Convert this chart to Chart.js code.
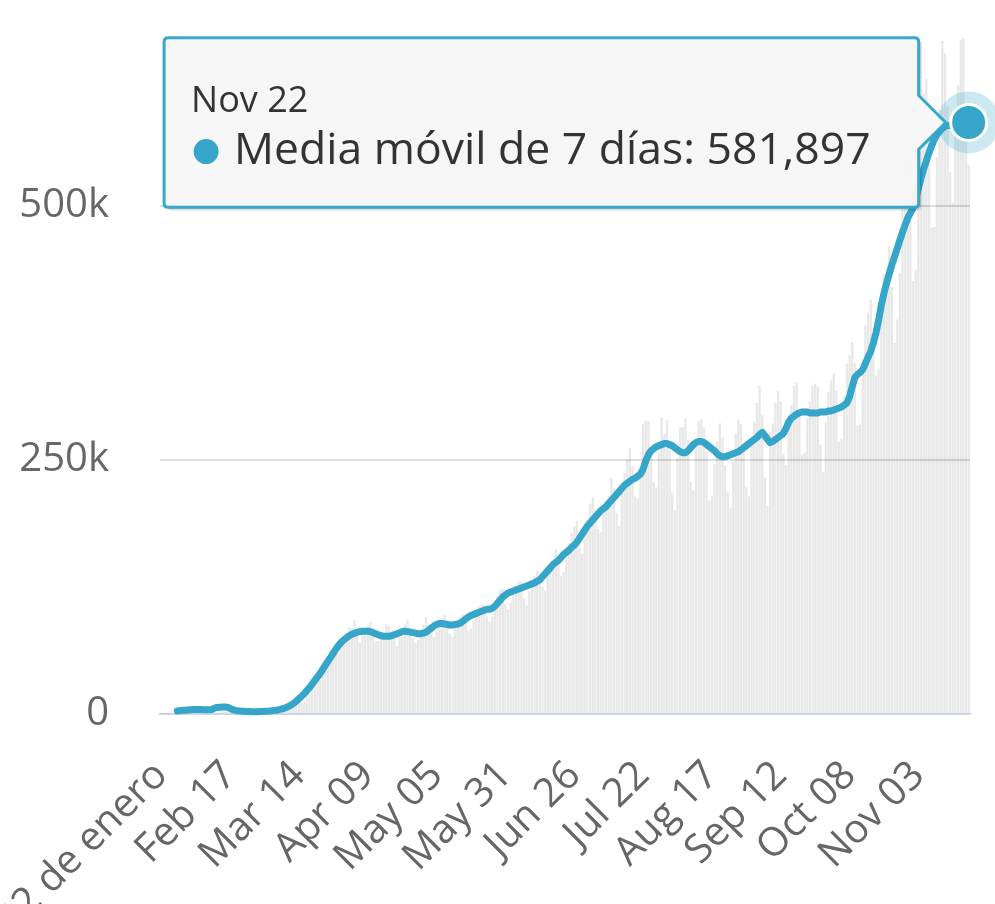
<!DOCTYPE html>
<html lang="es">
<head>
<meta charset="utf-8">
<title>Media móvil de 7 días</title>
<script src="https://cdn.jsdelivr.net/npm/chart.js@4.4.1/dist/chart.umd.min.js"></script>
<style>
  html, body { margin: 0; padding: 0; background: #fff; }
  #wrap { width: 995px; height: 904px; }
</style>
</head>
<body>
<div id="wrap"><canvas id="cases" width="995" height="904"></canvas></div>
<script>
/* ---------- data (thousands of cases, one value per day from Jan 22) ---------- */

// daily new cases (grey bars)
const DAILY_CASES = [
  0.1, 0.1, 0.3, 0.5, 0.7, 0.8, 2.7,
  0.6, 2.1, 1.7, 2.1, 4.7, 3.1, 4.0,
  3.7, 3.2, 3.6, 2.7, 3.0, 2.6, 2.0,
  0.4, 9.5, 6.5, 2.1, 2.2, 2.0, 1.9,
  0.5, 0.6, 1.0, 1.4, 0.6, 0.8, 0.9,
  0.8, 1.3, 1.8, 1.9, 1.7, 1.8, 2.2,
  2.6, 2.8, 3.0, 4.0, 3.9, 4.0, 4.5,
  5.0, 7.4, 10.0, 10.8, 11.3, 13.9, 16.6,
  19.5, 27.0, 29.0, 32.0, 33.5, 39.9, 42.0,
  50.5, 62.5, 64.5, 61.5, 59.0, 73.5, 77.0,
  80, 85, 84, 92, 79, 70, 81,
  84, 87, 90, 84, 72, 72, 78,
  75, 88, 87, 82, 74, 67, 76,
  76, 88, 93, 85, 75, 70, 73,
  83, 88, 95, 88, 80, 76, 81,
  89, 94, 98, 92, 79, 76, 84,
  87, 95, 98, 96, 82, 84, 92,
  99, 106, 108, 107, 96, 91, 96,
  105, 116, 122, 123, 108, 103, 110,
  117, 127, 131, 130, 114, 107, 121,
  127, 136, 141, 137, 125, 121, 141,
  143, 151, 162, 155, 136, 140, 165,
  168, 178, 185, 190, 163, 158, 180,
  190, 207, 213, 200, 182, 179, 203,
  210, 215, 232, 222, 198, 185, 218,
  237, 250, 262, 244, 214, 212, 235,
  285, 289, 288, 262, 228, 223, 258,
  292, 276, 289, 264, 218, 200, 252,
  282, 282, 291, 270, 229, 220, 264,
  288, 290, 282, 258, 210, 215, 246,
  268, 286, 272, 245, 218, 203, 248,
  276, 289, 285, 266, 223, 214, 268,
  287, 306, 323, 294, 233, 205, 278,
  286, 306, 318, 308, 256, 245, 281,
  304, 323, 326, 296, 255, 257, 291,
  307, 323, 325, 322, 265, 238, 287,
  317, 328, 335, 318, 268, 271, 313,
  345, 353, 366, 345, 284, 285, 348,
  383, 395, 408, 365, 333, 340, 393,
  433, 439, 460, 420, 365, 388, 434,
  497, 523, 549, 485, 426, 437, 502,
  526, 610, 625, 592, 478, 479, 548,
  595, 662, 650, 598, 533, 503, 572,
  618, 663, 666, 589, 540
];

// 7-day moving average (blue line), starts on day 7
const MOVING_AVG = [
  null, null, null, null, null, null,
  3.0, 3.3, 3.6, 3.8, 4.0, 4.2, 4.4, 4.5, 4.5, 4.4, 4.3, 4.2, 4.1,
  4.4, 5.6, 6.5, 6.7, 6.8, 6.8, 6.6, 5.5, 4.2,
  3.6, 3.2, 2.9, 2.7, 2.5, 2.4, 2.3, 2.3, 2.3, 2.4, 2.5, 2.6, 2.8,
  3.0, 3.3, 3.6, 4.0, 4.6, 5.3, 6.2, 7.4, 8.8, 10.5, 12.5, 15.0,
  17.5, 20, 23, 26, 29.5, 33, 36.5, 40, 44, 48, 52, 56, 60, 64, 67.5, 70.5, 73, 75,
  77, 78.5, 79.5, 80.5, 81, 81.5, 81.5, 81.5, 81, 80,
  79, 78, 77, 76.5, 76.5, 76.5, 77, 78, 79, 80, 81, 81.5, 81, 80.5, 80, 79.5, 79, 79, 79.5, 80.5,
  82.5, 84.5, 86.5, 88, 89, 89, 88.5, 88, 87.5, 87.5, 88, 88.5, 89.5,
  91.5, 93.5, 95.5, 97, 98, 99, 100, 101, 102, 103, 103, 104, 106, 109, 112, 115, 117,
  119, 120, 121, 122, 123, 124, 125, 126, 127, 128, 129, 130.5, 132,
  135, 138, 141, 144, 147, 149, 151, 154, 157, 159, 161, 164, 166,
  169, 173, 177, 181, 185, 188, 191, 194, 197, 200, 202, 204,
  207, 210, 213, 216, 219, 222, 225, 227, 229, 231, 232, 234, 236,
  241, 249, 255, 259, 261, 263, 264, 265, 266, 266,
  265, 264, 262, 260, 258, 257, 257, 259, 262, 265, 267, 268, 268, 267,
  265, 263, 261, 259, 256, 254, 253, 253, 254, 255, 256, 257, 258, 260,
  262, 264, 266, 268, 270, 272, 275, 277, 274, 270, 267, 268, 270, 272, 274, 276, 281, 287,
  291, 293, 295, 296, 297, 297, 297, 296, 296, 296, 296, 297, 297, 297, 298, 298, 299, 300, 301, 302, 304,
  306, 312, 322, 331, 334, 336, 339, 345, 351, 357, 365, 375,
  388, 402, 414, 424, 433, 442, 450, 458, 466, 474, 481,
  488, 493, 498, 507, 517, 527, 536, 544, 552, 559, 565, 570, 573, 576, 578, 579, 579, 580, 580, 580, 581, 581, 581, 581.897
];

// tick labels shown on the x axis, and the day each one sits on
const TICK_DATES = ['Jan 22', 'Feb 17', 'Mar 14', 'Apr 09', 'May 05', 'May 31',
                    'Jun 26', 'Jul 22', 'Aug 17', 'Sep 12', 'Oct 08', 'Nov 03'];
const TICK_TEXT  = ['22 de enero', 'Feb 17', 'Mar 14', 'Apr 09', 'May 05', 'May 31',
                    'Jun 26', 'Jul 22', 'Aug 17', 'Sep 12', 'Oct 08', 'Nov 03'];
const Y_TICKS = [0, 250, 500];
const SERIES_NAME = 'Media móvil de 7 días';

// one category per day, starting Jan 22 2020
const MONTHS = ['Jan', 'Feb', 'Mar', 'Apr', 'May', 'Jun', 'Jul', 'Aug', 'Sep', 'Oct', 'Nov', 'Dec'];
const CATEGORIES = DAILY_CASES.map((_, i) => {
  const d = new Date(Date.UTC(2020, 0, 22 + i));
  return MONTHS[d.getUTCMonth()] + ' ' + String(d.getUTCDate()).padStart(2, '0');
});

/* ---------- chart ---------- */

const BLUE = '#35a6c9';
const FONT = '"Open Sans", "Noto Sans", sans-serif';
const LAST = MOVING_AVG.length - 1;

function fmtCases(k) {
  return Math.round(k * 1000).toLocaleString('en-US');
}

// soft drop shadow under the tooltip box (Chart.js has no option for it)
const tooltipShadow = {
  id: 'tooltipShadow',
  beforeTooltipDraw(chart, args) {
    const tt = args.tooltip;
    if (!tt || !tt.opacity) return;
    const ctx = chart.ctx;
    ctx.save();
    [[3, 0.05], [2, 0.08], [1, 0.1]].forEach(([off, a]) => {
      ctx.fillStyle = 'rgba(0,0,0,' + a + ')';
      ctx.beginPath();
      ctx.roundRect(tt.x + off, tt.y + off, tt.width + 1, tt.height + 1, 5);
      ctx.fill();
    });
    ctx.restore();
  }
};

const chart = new Chart(document.getElementById('cases'), {
  type: 'bar',
  data: {
    labels: CATEGORIES,
    datasets: [
      {
        type: 'line',
        label: SERIES_NAME,
        data: MOVING_AVG,
        borderColor: BLUE,
        borderWidth: 7,
        borderCapStyle: 'round',
        borderJoinStyle: 'round',
        tension: 0,
        pointRadius: (c) => (c.dataIndex === LAST ? 18 : 0),
        pointHoverRadius: (c) => (c.dataIndex === LAST ? 18 : 0),
        pointBackgroundColor: BLUE,
        pointBorderColor: '#ffffff',
        pointBorderWidth: 3,
        pointHoverBorderWidth: 3,
        clip: false,
        order: 0
      },
      {
        // hover halo round the last point
        type: 'line',
        label: 'halo',
        data: MOVING_AVG,
        showLine: false,
        pointRadius: (c) => (c.dataIndex === LAST ? 31 : 0),
        pointHoverRadius: (c) => (c.dataIndex === LAST ? 31 : 0),
        pointBackgroundColor: 'rgba(53,166,201,0.25)',
        pointBorderWidth: 0,
        clip: false,
        order: 1
      },
      {
        type: 'bar',
        label: 'Casos diarios',
        data: DAILY_CASES,
        backgroundColor: 'rgba(0,0,0,0.09)',
        barPercentage: 1,
        categoryPercentage: 0.9,
        order: 2
      }
    ]
  },
  options: {
    responsive: false,
    animation: false,
    events: [],
    // the big halo would otherwise make Chart.js shrink the plot area
    layout: { autoPadding: false, padding: { left: 0, right: 25, top: 38, bottom: 0 } },
    scales: {
      x: {
        offset: true,
        grid: { display: false },
        border: { display: true, color: '#ccd6eb', width: 2 },
        ticks: {
          autoSkip: false,
          maxRotation: 45,
          minRotation: 45,
          padding: 30,
          color: '#666666',
          font: { family: FONT, size: 40 },
          callback: (value, index) => {
            const k = TICK_DATES.indexOf(CATEGORIES[index]);
            return k >= 0 ? TICK_TEXT[k] : null;
          }
        },
        afterFit: (scale) => {
          scale.height = 190;
          scale.paddingLeft = 0;
          scale.paddingRight = 0;
        }
      },
      y: {
        min: 0,
        max: 665,
        border: { display: false },
        grid: {
          drawTicks: false,
          lineWidth: 2,
          color: (c) => (c.tick && c.tick.value === 0 ? 'rgba(0,0,0,0)' : '#dedede')
        },
        ticks: {
          padding: 51,
          color: '#666666',
          font: { family: FONT, size: 40 },
          callback: (v) => (v === 0 ? '0' : v + 'k')
        },
        afterBuildTicks: (axis) => {
          axis.ticks = Y_TICKS.map((v) => ({ value: v }));
        },
        afterFit: (scale) => {
          scale.width = 160;
          scale.paddingTop = 0;
          scale.paddingBottom = 0;
        }
      }
    },
    plugins: {
      legend: { display: false },
      tooltip: {
        enabled: true,
        xAlign: 'right',
        yAlign: 'center',
        backgroundColor: 'rgba(247,247,247,0.97)',
        borderColor: '#37a8cc',
        borderWidth: 3,
        cornerRadius: 4,
        caretSize: 27,
        caretPadding: 23,
        padding: { top: 42, right: 48, bottom: 29, left: 27 },
        titleFont: { family: FONT, size: 36, weight: 'normal' },
        titleColor: '#333333',
        titleMarginBottom: 2,
        bodyFont: { family: FONT, size: 44.5 },
        bodyColor: '#333333',
        displayColors: true,
        usePointStyle: true,
        boxWidth: 30,
        boxHeight: 22,
        boxPadding: 11,
        filter: (item) => item.datasetIndex === 0,
        callbacks: {
          title: (items) => items[0].label,
          label: (item) => SERIES_NAME + ': ' + fmtCases(item.raw),
          labelColor: () => ({ borderColor: BLUE, backgroundColor: BLUE }),
          labelPointStyle: () => ({ pointStyle: 'circle', rotation: 0 })
        }
      }
    }
  },
  plugins: [tooltipShadow]
});

// show the tooltip on the last day, as in the screenshot
chart.tooltip.setActiveElements([{ datasetIndex: 0, index: LAST }], { x: 0, y: 0 });
chart.update();
</script>
</body>
</html>
